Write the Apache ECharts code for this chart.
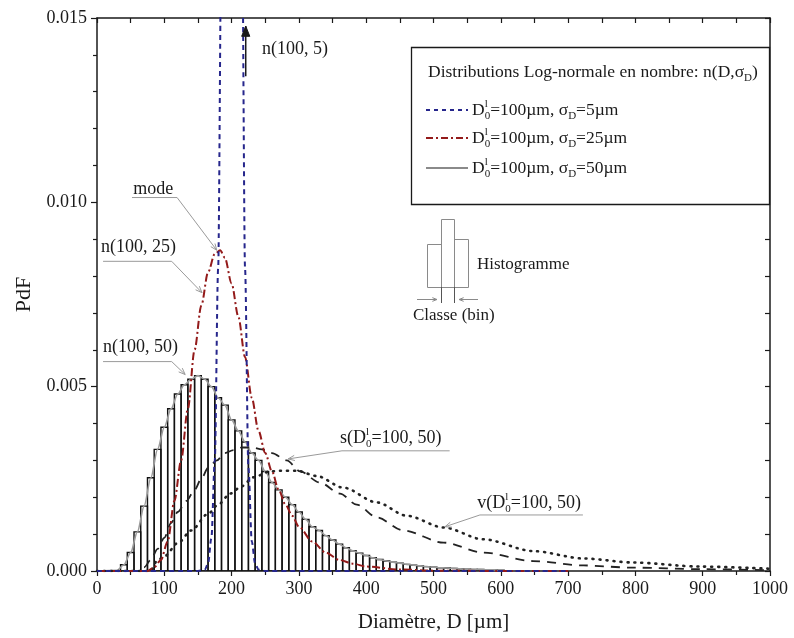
<!DOCTYPE html>
<html><head><meta charset="utf-8">
<script src="https://cdn.jsdelivr.net/npm/echarts/dist/echarts.min.js"></script>
<style>html,body{margin:0;padding:0;background:#fff}#c{width:794px;height:638px}</style>
</head><body><div id="c"></div>
<script>
// ---------------- DATA ----------------
const xTickLabels = ['0','100','200','300','400','500','600','700','800','900','1000'];
const yTickLabels = ['0.000','0.005','0.010','0.015'];

// Histogram (bin centres in µm, bin width 10 µm)
const binWidth = 10;
const binCenters = [40,50,60,70,80,90,100,110,120,130,140,150,160,170,180,190,200,210,220,230,240,250,260,270,280,290,300,310,320,330,340,350,360,370,380,390,400,410,420,430,440,450,460,470,480,490,500,510,520,530,540,550,560,570,580,590,600];
const binValues = [0.00017,0.0005,0.00106,0.00176,0.00253,0.0033,0.0039,0.0044,0.0048,0.00505,0.0052,0.0053,0.0052,0.0050,0.0047,0.0045,0.0041,0.0038,0.0035,0.0032,0.0030,0.0027,0.0024,0.0022,0.0020,0.0018,0.0016,0.0014,0.0012,0.0011,0.00096,0.00084,0.00073,0.00063,0.00055,0.00048,0.00042,0.00036,0.00031,0.00027,0.00024,0.00021,0.00018,0.00016,0.00014,0.00012,0.0001,0.00009,0.00008,0.00007,0.00006,0.00005,0.00004,0.00004,0.00003,0.00003,0.00002];

// n(100, 5) - blue dashed
const n5D = [0,150,160,165,170,175,180,185,190,195,200,205,210,215,220,225,230,235,240,250,700];
const n5V = [0,0,0.00003,0.0002,0.0009,0.003,0.0082,0.0175,0.032,0.047,0.054,0.049,0.035,0.019,0.0082,0.0028,0.0008,0.0002,0.00004,0,0];

// n(100, 25) - red dash-dot
const n25D = [0,75,85,95,105,115,125,135,145,155,165,175,183,190,200,210,220,230,240,250,260,270,280,290,300,320,340,360,380,400,450,500,600,700];
const n25V = [0,0,0.0001,0.0003,0.0008,0.0019,0.0030,0.0044,0.0060,0.0072,0.0081,0.0086,0.0087,0.0085,0.0078,0.0069,0.0058,0.0047,0.0038,0.0032,0.0027,0.0022,0.0018,0.0015,0.0012,0.0008,0.0005,0.0003,0.0002,0.00012,0.00004,0.00001,0,0];

// s(D0=100, 50) - black dashed
const sD = [0,60,70,80,90,100,110,120,133,145,155,165,178,190,203,215,230,245,260,282,302,331,361,386,416,455,515,574,648,723,797,896,1000];
const sV = [0,0,0.0001,0.0003,0.0006,0.0009,0.0013,0.0016,0.0019,0.0022,0.0025,0.0028,0.0030,0.0032,0.00328,0.00335,0.00335,0.0033,0.0032,0.0030,0.0027,0.0024,0.0021,0.0018,0.00145,0.0011,0.00077,0.0005,0.00027,0.00015,0.00009,0.00005,0.00002];

// v(D0=100, 50) - black dotted
const vD = [0,80,89,100,121,140,165,180,198,215,232,257,272,297,326,366,416,460,515,574,648,723,797,896,1000];
const vV = [0,0,0.00027,0.0004,0.00077,0.0011,0.00155,0.0018,0.0021,0.0023,0.00254,0.0027,0.00272,0.00272,0.00258,0.00226,0.00186,0.0015,0.00118,0.00086,0.00054,0.00034,0.00023,0.00012,0.00006];

// ---------------- CHART ----------------
const FONT = 'Liberation Serif, DejaVu Serif, serif';
const INK = '#1a1a1a';
const zip = (a, b) => a.map((d, i) => [d, b[i]]);

const chart = echarts.init(document.getElementById('c'), null, {renderer: 'canvas'});

const axisLineStyle = {color: INK, width: 1.5};
const tickStyle = {color: INK, width: 1.2};

const option = {
  animation: false,
  backgroundColor: '#fff',
  grid: {left: 97, right: 24, top: 18, bottom: 67, containLabel: false, outerBoundsMode: 'none'},
  xAxis: [
    {
      type: 'value', position: 'bottom', min: 0, max: 1000, interval: 100,
      axisLine: {show: true, onZero: false, lineStyle: axisLineStyle},
      axisTick: {show: true, inside: false, length: 5, lineStyle: tickStyle},
      minorTick: {show: true, splitNumber: 2, length: 4, lineStyle: tickStyle},
      splitLine: {show: false}, minorSplitLine: {show: false},
      axisLabel: {
        margin: 9, fontSize: 18, fontFamily: FONT, color: INK,
        formatter: v => xTickLabels[Math.round(v / 100)]
      },
      name: 'Diamètre, D [µm]', nameLocation: 'middle', nameGap: 41,
      nameTextStyle: {fontSize: 21, fontFamily: FONT, color: INK}
    },
    {
      type: 'value', position: 'top', min: 0, max: 1000, interval: 50,
      axisLine: {show: true, onZero: false, lineStyle: axisLineStyle},
      axisTick: {show: true, inside: true, length: 5, lineStyle: tickStyle},
      axisLabel: {show: false}, splitLine: {show: false}
    }
  ],
  yAxis: [
    {
      type: 'value', position: 'left', min: 0, max: 0.015, interval: 0.005,
      axisLine: {show: true, onZero: false, lineStyle: axisLineStyle},
      axisTick: {show: true, inside: false, length: 6, lineStyle: tickStyle},
      minorTick: {show: true, splitNumber: 5, length: 4, lineStyle: tickStyle},
      splitLine: {show: false}, minorSplitLine: {show: false},
      axisLabel: {
        margin: 10, fontSize: 18, fontFamily: FONT, color: INK,
        formatter: v => yTickLabels[Math.round(v / 0.005)]
      },
      name: 'PdF', nameLocation: 'middle', nameGap: 54, nameRotate: 90,
      nameTextStyle: {fontSize: 22, fontFamily: FONT, color: INK}
    },
    {
      type: 'value', position: 'right', min: 0, max: 0.015, interval: 0.001,
      axisLine: {show: true, onZero: false, lineStyle: axisLineStyle},
      axisTick: {show: true, inside: true, length: 5, lineStyle: tickStyle},
      axisLabel: {show: false}, splitLine: {show: false}
    }
  ],
  series: [
    {
      name: 'sigma50', type: 'line', xAxisIndex: 0, yAxisIndex: 0,
      data: zip([0, 30].concat(binCenters), [0, 0.00002].concat(binValues)),
      showSymbol: false, symbol: 'none', smooth: 0.3, smoothMonotone: 'x', silent: true,
      lineStyle: {color: '#9a9a9a', width: 1.6}
    },
    {
      name: 'hist', type: 'custom', xAxisIndex: 0, yAxisIndex: 0, clip: true, silent: true,
      data: zip(binCenters, binValues),
      encode: {x: 0, y: 1},
      renderItem: function (params, api) {
        const c = api.value(0), v = api.value(1);
        const p0 = api.coord([c - binWidth / 2, v]);
        const p1 = api.coord([c + binWidth / 2, 0]);
        return {
          type: 'rect',
          shape: {x: p0[0], y: p0[1], width: p1[0] - p0[0], height: p1[1] - p0[1]},
          style: {fill: 'rgba(0,0,0,0)', stroke: '#111', lineWidth: 1.4}
        };
      }
    },
    {
      name: 's', type: 'line', xAxisIndex: 0, yAxisIndex: 0, data: zip(sD, sV),
      showSymbol: false, symbol: 'none', smooth: 0.3, smoothMonotone: 'x', silent: true,
      lineStyle: {color: '#222', width: 1.8, type: [9, 7]}
    },
    {
      name: 'v', type: 'line', xAxisIndex: 0, yAxisIndex: 0, data: zip(vD, vV),
      showSymbol: false, symbol: 'none', smooth: 0.3, smoothMonotone: 'x', silent: true,
      lineStyle: {color: '#222', width: 2.6, type: [1, 6], cap: 'round'}
    },
    {
      name: 'n25', type: 'line', xAxisIndex: 0, yAxisIndex: 0, data: zip(n25D, n25V),
      showSymbol: false, symbol: 'none', smooth: 0.3, smoothMonotone: 'x', silent: true,
      lineStyle: {color: '#931a1a', width: 2, type: [8, 3, 2, 3]}
    },
    {
      name: 'n5', type: 'line', xAxisIndex: 0, yAxisIndex: 0, data: zip(n5D, n5V), clip: true,
      showSymbol: false, symbol: 'none', smooth: 0.3, smoothMonotone: 'x', silent: true,
      lineStyle: {color: '#26268c', width: 2, type: [5, 4]}
    }
  ]
};
chart.setOption(option);

// ---------------- ANNOTATIONS ----------------
const rich = {
  sup: {fontSize: 11, fontFamily: FONT, fill: INK, verticalAlign: 'top', lineHeight: 11, width: 0},
  sub: {fontSize: 11, fontFamily: FONT, fill: INK, verticalAlign: 'bottom', lineHeight: 11}
};
function txt(x, y, text, size) {
  return {
    type: 'text', x: x, y: y, silent: true, z: 100,
    style: {text: text, fontSize: size || 17, fontFamily: FONT, fill: INK,
            align: 'left', verticalAlign: 'middle', lineHeight: 23, rich: rich}
  };
}
function line(p0, p1, color, w) {
  return {type: 'line', silent: true, z: 100, shape: {x1: p0[0], y1: p0[1], x2: p1[0], y2: p1[1]},
          style: {stroke: color, lineWidth: w || 1}};
}
function head(tip, from, size, color, filled) {
  const ang = Math.atan2(tip[1] - from[1], tip[0] - from[0]);
  const a1 = ang + Math.PI - 0.38, a2 = ang + Math.PI + 0.38;
  const q1 = [tip[0] + size * Math.cos(a1), tip[1] + size * Math.sin(a1)];
  const q2 = [tip[0] + size * Math.cos(a2), tip[1] + size * Math.sin(a2)];
  return filled
    ? {type: 'polygon', silent: true, z: 100, shape: {points: [q1, tip, q2]}, style: {fill: color, stroke: color}}
    : {type: 'polyline', silent: true, z: 100, shape: {points: [q1, tip, q2]}, style: {stroke: color, fill: null, lineWidth: 1}};
}
const px = p => chart.convertToPixel({xAxisIndex: 0, yAxisIndex: 0}, p);

// labels anchored in data units: text position, underline ends, leader tip
const notes = [
  {t: 'mode',                         at: [54, 0.01035],  u0: [52, 0.01013],  u1: [119, 0.01013], from: 'u1', tip: [178, 0.0087]},
  {t: 'n(100, 25)',                   at: [6, 0.00878],   u0: [9, 0.0084],    u1: [111, 0.0084],   from: 'u1', tip: [156, 0.00755]},
  {t: 'n(100, 50)',                   at: [9, 0.00606],   u0: [9, 0.00568],   u1: [111, 0.00568],  from: 'u1', tip: [131, 0.00533]},
  {t: 's(D{sup|l}{sub|0}=100, 50)',   at: [361, 0.00361], u0: [364, 0.00326], u1: [524, 0.00326],  from: 'u0', tip: [284, 0.00304]},
  {t: 'v(D{sup|l}{sub|0}=100, 50)',   at: [565, 0.00185], u0: [569, 0.00152], u1: [722, 0.00152],  from: 'u0', tip: [517, 0.0012]}
];
const G = [];
const GRAY = '#9a9a9a';
notes.forEach(n => {
  const a = px(n.at), u0 = px(n.u0), u1 = px(n.u1), tip = px(n.tip);
  G.push(txt(a[0], a[1], n.t, 18));
  G.push(line(u0, u1, GRAY, 1));
  const f = n.from === 'u1' ? u1 : u0;
  G.push(line(f, tip, GRAY, 1));
  G.push(head(tip, f, 7, GRAY, false));
});
// n(100, 5) arrow
{
  const b = px([221, 0.01342]), t = px([221, 0.01478]);
  G.push(line(b, t, INK, 1.5));
  G.push(head(t, b, 11, INK, true));
  const a = px([245, 0.01416]);
  G.push(txt(a[0], a[1], 'n(100, 5)', 18));
}

// Legend box
G.push({type: 'rect', silent: true, z: 90, shape: {x: 411.5, y: 47.5, width: 358, height: 157},
        style: {fill: '#fff', stroke: INK, lineWidth: 1.3}});
G.push(txt(428, 72, 'Distributions Log-normale en nombre: n(D,σ{sub|D})', 17.5));
const legendItems = [
  {y: 110, label: 'D{sup|l}{sub|0}=100µm, σ{sub|D}=5µm',  color: '#26268c', dash: [4, 4], w: 2},
  {y: 138, label: 'D{sup|l}{sub|0}=100µm, σ{sub|D}=25µm', color: '#931a1a', dash: [7, 3, 2, 3], w: 2},
  {y: 168, label: 'D{sup|l}{sub|0}=100µm, σ{sub|D}=50µm', color: '#8a8a8a', dash: null, w: 2}
];
legendItems.forEach(it => {
  G.push({type: 'line', silent: true, z: 100, shape: {x1: 426, y1: it.y, x2: 468, y2: it.y},
          style: {stroke: it.color, lineWidth: it.w, lineDash: it.dash}});
  G.push(txt(472, it.y, it.label, 17.5));
});

// Histogram schematic
const SG = '#8a8a8a';
G.push({type: 'rect', silent: true, z: 100, shape: {x: 427.5, y: 244.5, width: 14, height: 43}, style: {fill: null, stroke: SG, lineWidth: 1}});
G.push({type: 'rect', silent: true, z: 100, shape: {x: 441.5, y: 219.5, width: 13, height: 68}, style: {fill: null, stroke: SG, lineWidth: 1}});
G.push({type: 'rect', silent: true, z: 100, shape: {x: 454.5, y: 239.5, width: 14, height: 48}, style: {fill: null, stroke: SG, lineWidth: 1}});
G.push(line([441.5, 287], [441.5, 303], '#555', 1));
G.push(line([454.5, 287], [454.5, 303], '#555', 1));
G.push(line([417, 299.5], [437, 299.5], SG, 1));
G.push(head([437, 299.5], [417, 299.5], 5, SG, false));
G.push(line([478, 299.5], [459, 299.5], SG, 1));
G.push(head([459, 299.5], [478, 299.5], 5, SG, false));
G.push(txt(477, 265, 'Histogramme', 17));
G.push(txt(413, 316, 'Classe (bin)', 17));

chart.setOption({graphic: {elements: G}});
</script>
</body></html>
